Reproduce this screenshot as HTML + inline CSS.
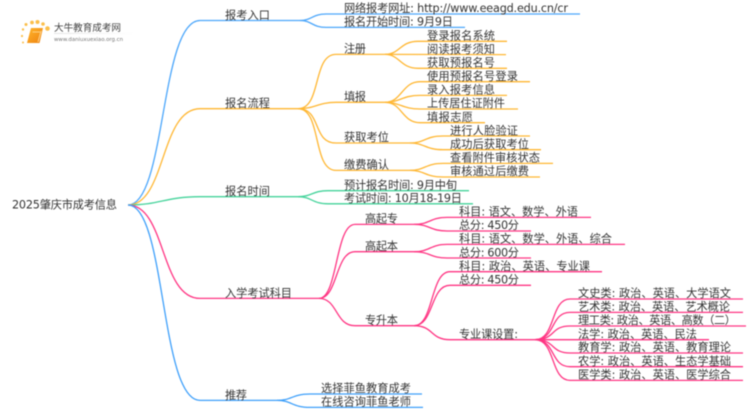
<!DOCTYPE html>
<html lang="zh"><head><meta charset="utf-8"><title>2025肇庆市成考信息</title>
<style>
html,body{margin:0;padding:0;background:#fff}
body{width:750px;height:410px;overflow:hidden}
svg{display:block;filter:blur(.4px)}
text{font-family:"DejaVu Sans","Noto Sans CJK SC",sans-serif;font-size:11.2px;fill:#333}
path{fill:none;stroke-width:1.3}
.b path{stroke:#4ba6fb}.o path{stroke:#ffb733}.g path{stroke:#45d39b}.p path{stroke:#ff3583}.c path{stroke:#3d9ffa}
</style></head><body>
<svg width="750" height="410" viewBox="0 0 750 410" xmlns="http://www.w3.org/2000/svg">
<defs><linearGradient id="fade"><stop offset="0" stop-color="#ddd"/><stop offset="1" stop-color="#fff"/></linearGradient>
<linearGradient id="bk" x1="0" y1="0" x2="1" y2="1"><stop offset="0" stop-color="#ffb52a"/><stop offset="1" stop-color="#ee8210"/></linearGradient></defs>

<!-- logo -->
<g fill="#fbbf4a">
<circle cx="47.5" cy="28.5" r="2.3"/><circle cx="43" cy="24" r="1.8"/><circle cx="37.5" cy="22" r="2"/><circle cx="32" cy="22.5" r="1.9"/><circle cx="26" cy="24.5" r="1.5"/><circle cx="23" cy="29.5" r="1.2"/><circle cx="22" cy="36" r="1.1"/><circle cx="23" cy="42.5" r="1"/>
</g>
<path d="M31 28 L43 28 L39.5 43 L27 43 Z" style="fill:url(#bk);stroke:none"/>
<path d="M32.5 32 L40 32" style="stroke:#ffdf9a;stroke-width:.8"/>
<path d="M41 31 L38 42" style="stroke:#ffe2a8;stroke-width:.8"/>
<text x="54" y="31" style="font-size:9.6px;fill:#444" textLength="67">大牛教育成考网</text>
<rect x="54" y="33" width="80" height=".8" fill="url(#fade)"/>
<text x="54" y="41" style="font-size:5.4px;fill:#777" textLength="69">www.daniuxuexiao.org.cn</text>

<!-- blue entry -->
<g class="b">
<path d="M128 205 C166 205 160 20.5 200 20.5 L300 20.5"/>
<path d="M300 20.5 C312 20.5 312 14 326 14 L580 14"/>
<path d="M300 20.5 C312 20.5 312 27.4 326 27.4 L465 27.4"/>
</g>
<!-- orange process -->
<g class="o">
<path d="M128 205 C166 205 160 108.7 200 108.7 L298 108.7"/>
<path d="M298 108.7 C322 108.7 312 54.4 336 54.4 L385 54.4"/>
<path d="M298 108.7 C315 108.7 318 102.3 336 102.3 L385 102.3"/>
<path d="M298 108.7 C322 108.7 312 143 336 143 L410 143"/>
<path d="M298 108.7 C322 108.7 312 170.4 336 170.4 L410 170.4"/>
<path d="M385 54.4 C400 54.4 400 41.3 418 41.3 L507 41.3"/>
<path d="M385 54.4 L506 54.6"/>
<path d="M385 54.4 C400 54.4 400 68.3 418 68.3 L507 68.3"/>
<path d="M385 102.3 C402 102.3 402 81.7 420 81.7 L530 81.7"/>
<path d="M385 102.3 C400 102.3 402 95.4 420 95.4 L507 95.4"/>
<path d="M385 102.3 C400 102.3 402 109 420 109 L518 109"/>
<path d="M385 102.3 C402 102.3 402 122.7 420 122.7 L485 122.7"/>
<path d="M410 143 C425 143 425 136 443 136 L530 136"/>
<path d="M410 143 C425 143 425 149.7 443 149.7 L541 149.7"/>
<path d="M410 170.4 C425 170.4 425 163.4 443 163.4 L553 163.4"/>
<path d="M410 170.4 C425 170.4 425 177 443 177 L540 177"/>
</g>
<!-- green time -->
<g class="g">
<path d="M128 205 C160 205 165 196.7 200 196.7 L298 196.7"/>
<path d="M298 196.7 C312 196.7 312 190.7 328 190.7 L469 190.7"/>
<path d="M298 196.7 C312 196.7 312 203.8 328 203.8 L473 203.8"/>
</g>
<!-- pink subjects -->
<g class="p">
<path d="M128 205 C166 205 160 298.4 200 298.4 L319 298.4"/>
<path d="M319 298.4 C338 298.4 335 224.4 355 224.4 L414 224.4"/>
<path d="M319 298.4 C338 298.4 335 251.7 355 251.7 L414 251.7"/>
<path d="M319 298.4 C338 298.4 335 325.7 355 325.7 L414 325.7"/>
<path d="M414 224.4 C430 224.4 430 217.4 447 217.4 L591 217.4"/>
<path d="M414 224.4 C430 224.4 430 231 447 231 L531 231"/>
<path d="M414 251.7 C430 251.7 430 244.4 447 244.4 L625 244.4"/>
<path d="M414 251.7 C430 251.7 430 258 447 258 L531 258"/>
<path d="M414 325.7 C434 325.7 430 271.7 450 271.7 L602 271.7"/>
<path d="M414 325.7 C434 325.7 430 285.3 450 285.3 L531 285.3"/>
<path d="M414 325.7 C434 325.7 430 339.7 450 339.7 L535 339.7"/>
<path d="M535 339.7 C556 339.7 550 299 570 299 L743 299"/>
<path d="M535 339.7 C556 339.7 550 312.4 570 312.4 L743 312.4"/>
<path d="M535 339.7 C556 339.7 550 326 570 326 L746 326"/>
<path d="M535 339.7 L709 339.7"/>
<path d="M535 339.7 C556 339.7 550 353 570 353 L743 353"/>
<path d="M535 339.7 C556 339.7 550 366.7 570 366.7 L743 366.7"/>
<path d="M535 339.7 C556 339.7 550 380.4 570 380.4 L743 380.4"/>
</g>
<!-- blue recommend -->
<g class="c">
<path d="M128 205 C166 205 160 400.4 200 400.4 L277 400.4"/>
<path d="M277 400.4 C292 400.4 292 394 310 394 L422 394"/>
<path d="M277 400.4 C292 400.4 292 407.4 310 407.4 L423 407.4"/>
</g>

<text x="12" y="208.7" textLength="105">2025肇庆市成考信息</text>
<text x="225" y="19" textLength="45">报考入口</text>
<text x="225" y="107.2" textLength="45">报名流程</text>
<text x="225" y="195.2" textLength="45">报名时间</text>
<text x="225" y="297.2" textLength="67">入学考试科目</text>
<text x="225" y="399.2" textLength="22">推荐</text>

<text x="344" y="12.2" textLength="224">网络报考网址: http://www.eeagd.edu.cn/cr</text>
<text x="344" y="25.7" textLength="109">报名开始时间: 9月9日</text>
<text x="344" y="52.7" textLength="22">注册</text>
<text x="344" y="100.7" textLength="22">填报</text>
<text x="344" y="141.2" textLength="45">获取考位</text>
<text x="344" y="168.7" textLength="45">缴费确认</text>
<text x="427" y="39.5" textLength="68">登录报名系统</text>
<text x="427" y="53" textLength="68">阅读报考须知</text>
<text x="427" y="66.7" textLength="68">获取预报名号</text>
<text x="427" y="80.2" textLength="91">使用预报名号登录</text>
<text x="427" y="93.7" textLength="68">录入报考信息</text>
<text x="427" y="107.2" textLength="78">上传居住证附件</text>
<text x="427" y="121" textLength="46">填报志愿</text>
<text x="450" y="134.4" textLength="68">进行人脸验证</text>
<text x="450" y="148" textLength="79">成功后获取考位</text>
<text x="450" y="161.7" textLength="90">查看附件审核状态</text>
<text x="450" y="175.2" textLength="79">审核通过后缴费</text>
<text x="344" y="189" textLength="113">预计报名时间: 9月中旬</text>
<text x="344" y="202.2" textLength="118">考试时间: 10月18-19日</text>

<text x="365" y="222.7" textLength="33">高起专</text>
<text x="365" y="250" textLength="33">高起本</text>
<text x="365" y="324.2" textLength="33">专升本</text>
<text x="459" y="215.7" textLength="119">科目: 语文、数学、外语</text>
<text x="459" y="229.2" textLength="60">总分: 450分</text>
<text x="459" y="242.7" textLength="153">科目: 语文、数学、外语、综合</text>
<text x="459" y="256.4" textLength="60">总分: 600分</text>
<text x="459" y="270" textLength="131">科目: 政治、英语、专业课</text>
<text x="459" y="283.6" textLength="60">总分: 450分</text>
<text x="459" y="338" textLength="59">专业课设置:</text>
<text x="578" y="297.2" textLength="153">文史类: 政治、英语、大学语文</text>
<text x="578" y="310.7" textLength="152">艺术类: 政治、英语、艺术概论</text>
<text x="578" y="324.2" textLength="158">理工类: 政治、英语、高数（二）</text>
<text x="578" y="338" textLength="119">法学: 政治、英语、民法</text>
<text x="578" y="351.2" textLength="153">教育学: 政治、英语、教育理论</text>
<text x="578" y="365" textLength="153">农学: 政治、英语、生态学基础</text>
<text x="578" y="378.6" textLength="153">医学类: 政治、英语、医学综合</text>
<text x="321" y="392.2" textLength="90">选择菲鱼教育成考</text>
<text x="321" y="405.7" textLength="90">在线咨询菲鱼老师</text>
</svg>
</body></html>
